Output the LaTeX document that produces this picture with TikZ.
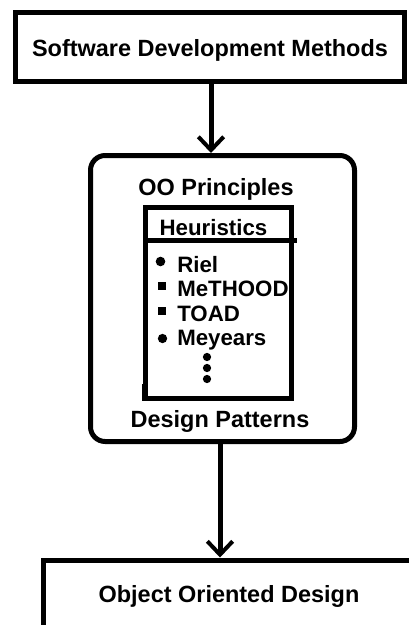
\documentclass[tikz,border=0pt]{standalone}
\usepackage{fontspec}
\setmainfont{Liberation Sans}
\usetikzlibrary{arrows.meta}
\begin{document}
\begin{tikzpicture}[x=0.75pt,y=-0.75pt,
  heavy/.style={draw=black,line width=3.75pt},
  boxnode/.style={heavy,rectangle,inner sep=0pt,minimum width=#1},
  title/.style={font=\fontsize{17.6}{20}\selectfont\bfseries,anchor=base,inner sep=0pt},
  item/.style={font=\fontsize{16.7}{20}\selectfont\bfseries,anchor=base west,inner sep=0pt},
  flow/.style={heavy,-{Straight Barb[length=10pt,width=19pt,line width=3pt]}},
  dotmark/.style={fill=black}]
\useasboundingbox (0,0) rectangle (409,625);
\clip (0,0) rectangle (409,625);

% boxes
\node[boxnode=389*0.75pt,minimum height=69*0.75pt] (top) at (210,47) {};
\node[boxnode=264*0.75pt,minimum height=286*0.75pt,rounded corners=11pt] (oo) at (222.5,298.5) {};
\node[boxnode=146*0.75pt,minimum height=191*0.75pt] (heur) at (218.5,303) {};
\node[boxnode=414*0.75pt,minimum height=120*0.75pt] (ood) at (250,620) {};

% header rule of the heuristics list
\coordinate (hdl) at (145.5,240.5);
\coordinate (hdr) at (297,240.5);
\draw[heavy] (hdl) -- (hdr);
\fill (141.7,384) rectangle (146,400.5);

% texts
\node[title] (tsdm) at (210,56.5) {Software Development Methods};
\node[title] (tpri) at (216,195) {OO Principles};
\node[title,font=\fontsize{16.7}{20}\selectfont\bfseries] (theu) at (213.5,235) {Heuristics};
\node[item] (iriel) at (177,272) {Riel};
\node[item] (imet) at (177,296.5) {MeTHOOD};
\node[item] (itoad) at (177,321) {TOAD};
\node[item] (imey) at (177,345.5) {Meyears};
\node[title] (tdp) at (220,427) {Design Patterns};
\node[title] (tood) at (229,602) {Object Oriented Design};

% bullets
\fill[dotmark] (160.5,261.5) circle (3.6pt);
\fill[dotmark] (157.5,282) rectangle (165.5,290);
\fill[dotmark] (157.5,306.5) rectangle (165.5,314.5);
\fill[dotmark] (162.5,338.5) circle (3.5pt);
\fill[dotmark] (207,357) circle (3.1pt);
\fill[dotmark] (207,368) circle (3.1pt);
\fill[dotmark] (207,379) circle (3.1pt);

% connectors
\coordinate (c1) at (211,0);
\coordinate (c2) at (220,0);
\draw[flow] (top.south -| c1) -- (oo.north -| c1);
\draw[flow] (oo.south -| c2) -- (ood.north -| c2);
\end{tikzpicture}
\end{document}
